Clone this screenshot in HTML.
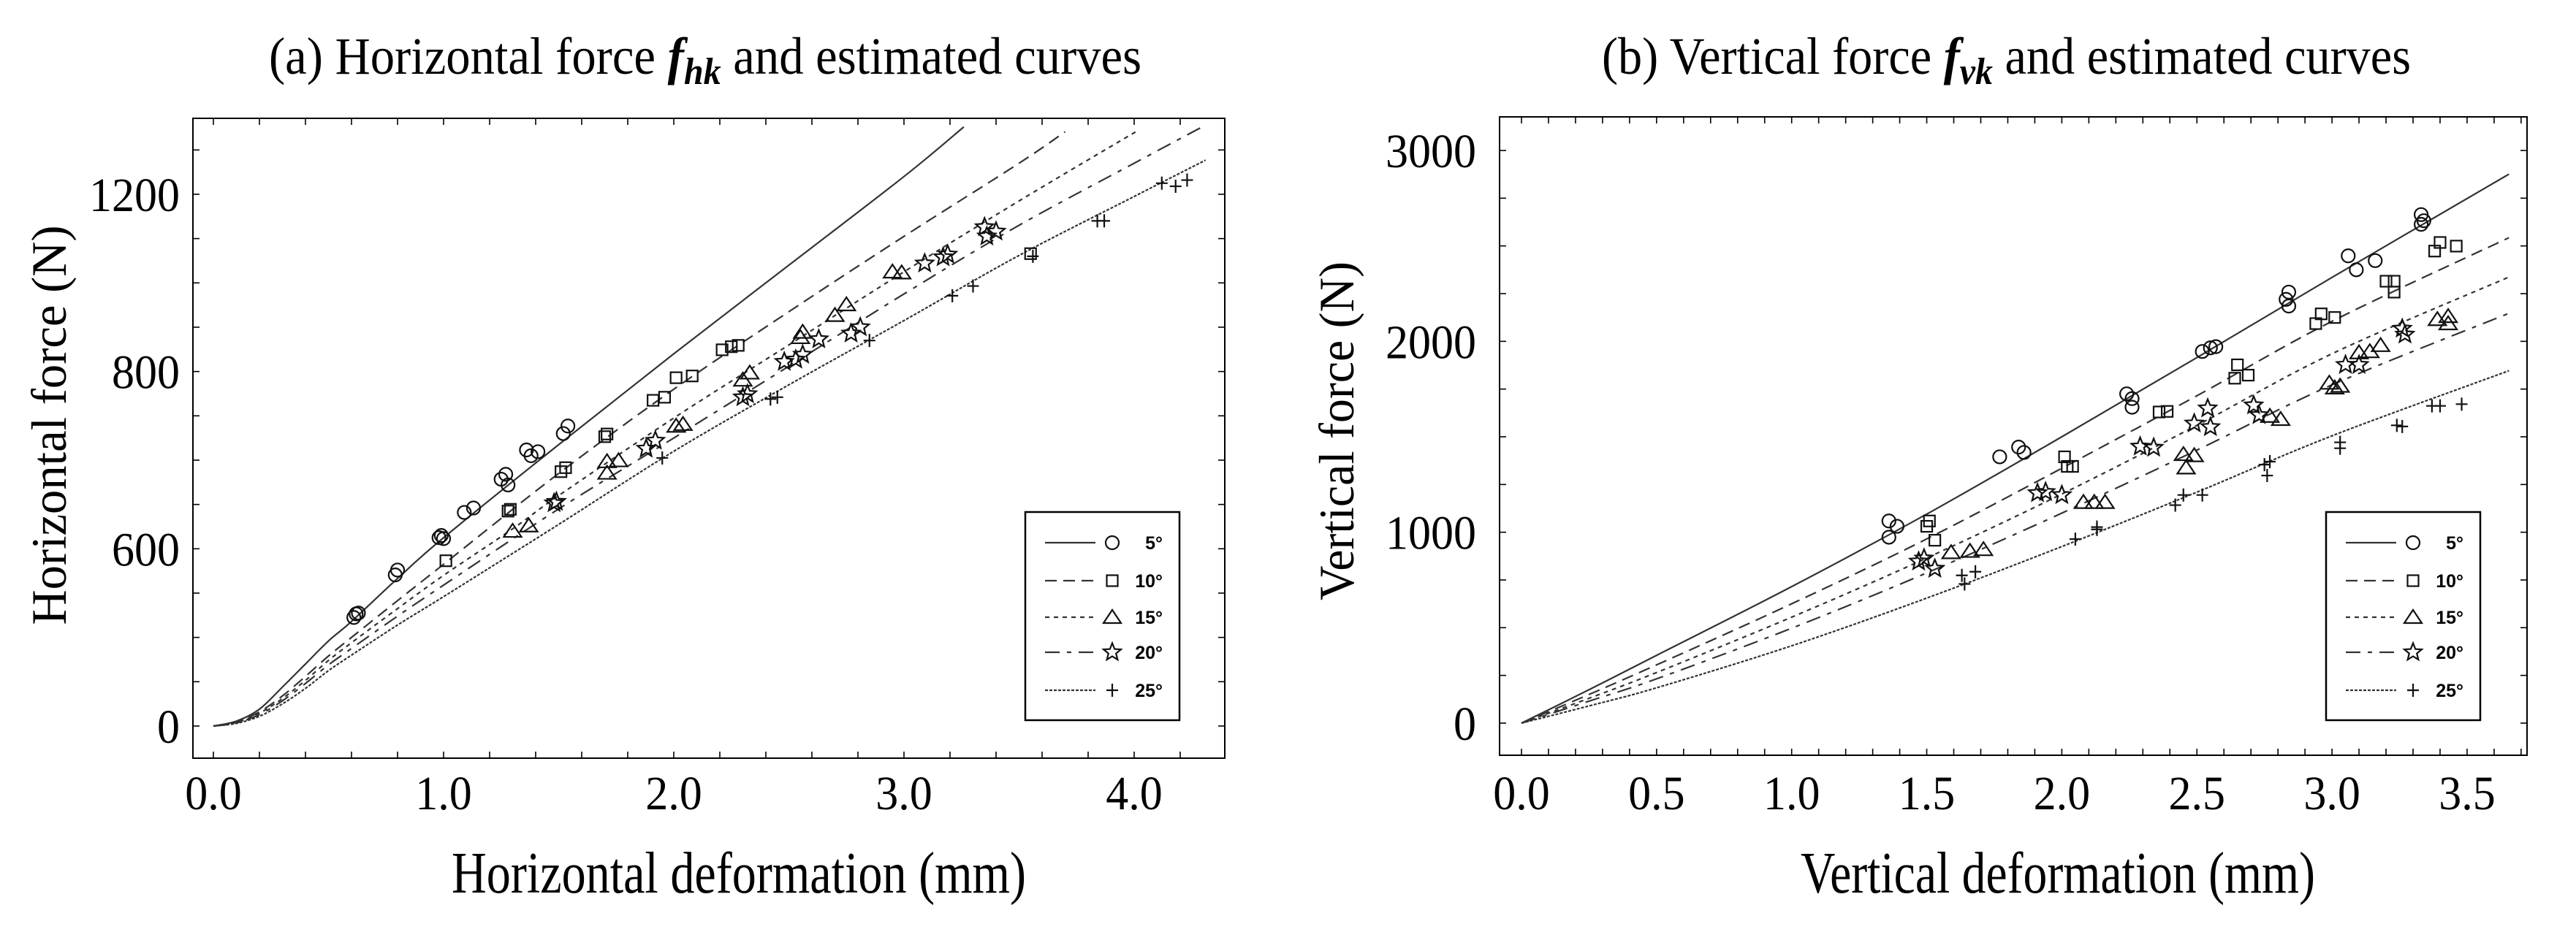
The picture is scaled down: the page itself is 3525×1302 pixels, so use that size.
<!DOCTYPE html>
<html><head><meta charset="utf-8"><style>
html,body{margin:0;padding:0;background:#fff;}
svg{display:block;}
text{font-family:"Liberation Serif",serif;fill:#000;}
.leg{font-family:"Liberation Sans",sans-serif;font-weight:bold;font-size:25px;}
</style></head><body>
<svg id="fig" width="3525" height="1302" viewBox="0 0 3525 1302" xmlns="http://www.w3.org/2000/svg">
<g id="chartA"></g>
<g id="chartB"></g>
</svg>
<script>
// ---------- Chart (a) data ----------
const seriesNames = ["5°","10°","15°","20°","25°"];
const aXTicks = [0,1,2,3,4];
const aXTickLabels = ["0.0","1.0","2.0","3.0","4.0"];
const aYTicks = [0,400,800,1200];
const aYTickLabels = ["0","600","800","1200"];
const aCurveX = [
 [0,0.1,0.2,0.3,0.4,0.5,0.6,0.8,1.0,1.5,2.0,2.5,3.0,3.26],
 [0,0.1,0.2,0.3,0.4,0.5,0.6,0.8,1.0,1.5,2.0,2.5,3.0,3.5,3.7],
 [0,0.1,0.2,0.3,0.4,0.5,0.6,0.8,1.0,1.3,1.5,2.0,2.5,3.0,3.5,4.02],
 [0,0.1,0.2,0.3,0.4,0.5,0.6,0.8,1.0,1.5,2.0,2.5,3.0,3.5,4.0,4.31],
 [0,0.1,0.2,0.3,0.4,0.5,0.6,0.8,1.0,1.5,2.0,2.5,3.0,3.5,4.0,4.31]];
const aCurveY = [
 [0,11,38,88,140,192,236,333,425,635,840,1040,1240,1352],
 [0,9,32,68,112,158,200,283,365,570,760,935,1105,1270,1341],
 [0,8,29,62,103,148,188,265,340,445,520,695,860,1025,1185,1345],
 [0,7,26,57,96,138,175,248,318,490,650,812,975,1130,1270,1356],
 [0,6,22,50,85,125,160,228,292,455,620,770,915,1062,1195,1277]];
const aPtX = [
 [0.62,0.61,0.63,0.79,0.8,0.98,1.0,0.99,1.09,1.13,1.25,1.27,1.28,1.36,1.38,1.41,1.52,1.54],
 [1.01,1.28,1.29,1.51,1.53,1.70,1.71,1.91,1.96,2.01,2.08,2.21,2.25,2.28,3.55],
 [1.30,1.37,1.71,1.76,1.71,2.01,2.04,2.30,2.33,2.55,2.56,2.70,2.75,2.95,2.99],
 [1.48,1.49,1.88,1.92,2.30,2.32,2.48,2.53,2.56,2.63,2.77,2.81,3.09,3.17,3.19,3.35,3.36,3.40],
 [1.95,2.42,2.45,2.85,3.21,3.30,3.56,3.84,3.87,4.12,4.18,4.23]];
const aPtY = [
 [253,245,255,341,352,425,423,430,482,492,557,568,544,623,610,619,660,677],
 [373,485,489,574,583,653,659,735,742,786,790,849,856,859,1066],
 [440,452,597,599,571,677,681,781,797,877,889,927,951,1025,1023],
 [503,506,626,644,742,749,822,827,838,873,886,900,1044,1058,1064,1126,1105,1116],
 [605,738,742,870,971,993,1060,1140,1140,1225,1218,1232]];

// ---------- Chart (b) data ----------
const bXTicks = [0,0.5,1,1.5,2,2.5,3,3.5];
const bXTickLabels = ["0.0","0.5","1.0","1.5","2.0","2.5","3.0","3.5"];
const bYTicks = [0,1000,2000,3000];
const bYTickLabels = ["0","1000","2000","3000"];
const bCurveX = [0,0.25,0.5,1.0,1.5,2.0,2.5,3.0,3.655];
const bCurveY = [
 [0,175,355,715,1095,1500,1915,2335,2876],
 [0,150,305,625,965,1335,1715,2105,2543],
 [0,130,265,555,865,1200,1560,1935,2337],
 [0,115,232,497,787,1100,1430,1772,2147],
 [0,90,185,405,655,925,1210,1505,1846]];
const bPtX = [
 [1.36,1.36,1.39,1.77,1.84,1.86,2.24,2.26,2.26,2.52,2.55,2.57,2.83,2.84,2.84,3.06,3.09,3.16,3.33,3.33,3.34],
 [1.50,1.51,1.53,2.01,2.02,2.04,2.36,2.39,2.64,2.65,2.69,2.94,2.96,3.01,3.20,3.23,3.23,3.38,3.40,3.46],
 [1.59,1.66,1.71,2.08,2.12,2.16,2.45,2.49,2.46,2.77,2.81,2.99,3.01,3.03,3.10,3.14,3.18,3.39,3.43,3.43],
 [1.47,1.49,1.53,1.91,1.94,2.00,2.29,2.34,2.49,2.54,2.55,2.71,2.73,3.05,3.10,3.26,3.27],
 [1.63,1.64,1.68,2.05,2.13,2.13,2.42,2.45,2.52,2.75,2.77,2.76,3.03,3.03,3.24,3.26,3.37,3.40,3.48]];
const bPtY = [
 [1059,974,1031,1395,1446,1418,1725,1700,1655,1947,1966,1972,2220,2258,2185,2448,2375,2423,2613,2664,2632],
 [1031,1059,958,1395,1345,1345,1630,1633,1807,1877,1823,2093,2144,2125,2315,2315,2258,2473,2518,2499],
 [894,901,910,1157,1157,1157,1408,1402,1338,1608,1592,1782,1757,1766,1941,1947,1979,2115,2131,2093],
 [847,863,809,1205,1211,1195,1449,1443,1570,1649,1551,1665,1614,1877,1877,2067,2036],
 [774,729,793,964,1027,1015,1142,1195,1195,1354,1370,1297,1471,1440,1560,1554,1662,1662,1671]];

const NS="http://www.w3.org/2000/svg";
const dashes=["","16,9","6,6","20,10,6,10","4,2"];
const markerKinds=["circle","square","triangle","star","plus"];
function mk(tag,attrs,parent){const e=document.createElementNS(NS,tag);for(const k in attrs)e.setAttribute(k,attrs[k]);parent.appendChild(e);return e;}
function marker(kind,cx,cy,parent){
  let e;
  if(kind==="circle"){e=mk("circle",{cx:cx,cy:cy,r:9},parent);}
  else if(kind==="square"){e=mk("rect",{x:cx-7.5,y:cy-7.5,width:15,height:15},parent);}
  else if(kind==="triangle"){e=mk("polygon",{points:`${cx},${cy-10} ${cx+12},${cy+8} ${cx-12},${cy+8}`},parent);}
  else if(kind==="star"){let p=[];for(let i=0;i<10;i++){const r=i%2?5.5:12.5;const a=-Math.PI/2+i*Math.PI/5;p.push((cx+r*Math.cos(a)).toFixed(1)+","+(cy+r*Math.sin(a)).toFixed(1));}e=mk("polygon",{points:p.join(" ")},parent);}
  else {e=mk("path",{d:`M${cx-8},${cy}H${cx+8}M${cx},${cy-9}V${cy+9}`},parent);}
  e.setAttribute("fill","none");e.setAttribute("stroke","#111");e.setAttribute("stroke-width","2.2");
  return e;
}
function txt(s,attrs,parent){const t=mk("text",attrs,parent);t.textContent=s;return t;}
function labelWidth(s,dw){let w=0;for(const c of s)w+=(c==="."?dw*0.5:dw);return w;}

function build(cfg){
  const g=cfg.g;
  const X=v=>cfg.x0+v*cfg.sx, Y=v=>cfg.y0-v*cfg.sy;
  const F=cfg.frame;
  const t=mk("text",{x:F.tx,y:101,"font-size":72,textLength:F.tw,lengthAdjust:"spacingAndGlyphs"},g);
  
  
  t.appendChild(document.createTextNode(cfg.title[0]));
  const ts=mk("tspan",{"font-style":"italic","font-weight":"bold"},t);ts.textContent="f";
  const ts2=mk("tspan",{"font-style":"italic","font-weight":"bold","font-size":52,dy:14},t);ts2.textContent=cfg.title[1];
  const ts3=mk("tspan",{dy:-14},t);ts3.textContent=cfg.title[2];
  const fr=mk("rect",{x:F.l,y:F.t,width:F.r-F.l,height:F.b-F.t,fill:"none",stroke:"#000","stroke-width":2},g);
  
  
  const tk=mk("g",{stroke:"#000","stroke-width":1.6},g);
  
  
  for(let v=cfg.xMinorStart;v<=cfg.xMax+1e-9;v+=cfg.xMinor){const px=X(v);if(px<F.l||px>F.r)continue;
    mk("line",{x1:px,y1:F.b,x2:px,y2:F.b-9},tk);mk("line",{x1:px,y1:F.t,x2:px,y2:F.t+9},tk);}
  for(let v=cfg.yMinorStart;v<=cfg.yMax+1e-9;v+=cfg.yMinor){const py=Y(v);if(py<F.t||py>F.b)continue;
    mk("line",{x1:F.l,y1:py,x2:F.l+9,y2:py},tk);mk("line",{x1:F.r,y1:py,x2:F.r-9,y2:py},tk);}
  cfg.xTicks.forEach((v,i)=>{const s=cfg.xTickLabels[i];
    const e=txt(s,{x:X(v),y:1108,"font-size":66,"text-anchor":"middle",textLength:labelWidth(s,31),lengthAdjust:"spacingAndGlyphs"},g);
    
    });
  cfg.yTicks.forEach((v,i)=>{const s=cfg.yTickLabels[i];
    const e=txt(s,{x:F.yl,y:Y(v)+23,"font-size":66,"text-anchor":"end",textLength:labelWidth(s,31),lengthAdjust:"spacingAndGlyphs"},g);
    
    });
  const xl=txt(cfg.xLabel,{x:F.xlx,y:1222,"font-size":80,"text-anchor":"middle",textLength:F.xlw,lengthAdjust:"spacingAndGlyphs"},g);
  
  
  const yl=txt(cfg.yLabel,{x:0,y:0,"font-size":68,"text-anchor":"middle",textLength:F.ylw,lengthAdjust:"spacingAndGlyphs",transform:`translate(${F.ylx},${F.yly}) rotate(-90)`},g);
  
  
  cfg.curveY.forEach((ys,si)=>{
    const xs=Array.isArray(cfg.curveX[0])?cfg.curveX[si]:cfg.curveX;
    const P=xs.map((x,i)=>[X(x),Y(ys[i])]);
    let d="M"+P[0][0]+","+P[0][1];
    for(let i=0;i<P.length-1;i++){const p0=P[Math.max(0,i-1)],p1=P[i],p2=P[i+1],p3=P[Math.min(P.length-1,i+2)];
      d+=` C${p1[0]+(p2[0]-p0[0])/6},${p1[1]+(p2[1]-p0[1])/6} ${p2[0]-(p3[0]-p1[0])/6},${p2[1]-(p3[1]-p1[1])/6} ${p2[0]},${p2[1]}`;}
    const c=mk("path",{d:d,fill:"none",stroke:"#333","stroke-width":2.2},g);
    if(dashes[si])c.setAttribute("stroke-dasharray",dashes[si]);
    
    
  });
  cfg.ptY.forEach((ys,si)=>{
    const pg=mk("g",{},g);
    
    
    ys.forEach((v,i)=>{const m=marker(markerKinds[si],X(cfg.ptX[si][i]),Y(v),pg);
      
      });
  });
  const L=cfg.legend;
  const lg=mk("g",{},g);
  
  
  mk("rect",{x:L.x,y:701,width:211,height:285,fill:"#fff",stroke:"#000","stroke-width":2.5},lg);
  const rows=[743,795,845,893,945];
  seriesNames.forEach((n,si)=>{
    const eg=mk("g",{},lg);
    
    
    const ln=mk("line",{x1:L.x+27,y1:rows[si],x2:L.x+96,y2:rows[si],stroke:"#333","stroke-width":2.2},eg);
    if(dashes[si])ln.setAttribute("stroke-dasharray",dashes[si]);
    marker(markerKinds[si],L.x+119,rows[si],eg);
    txt(n,{x:L.x+188,y:rows[si]+9,"text-anchor":"end",class:"leg"},eg);
  });
}

build({g:document.getElementById("chartA"),
  x0:292,sx:315,y0:994,sy:0.6067,xMax:4.39,yMax:1370,xMinor:0.2,xMinorStart:0,yMinor:100,yMinorStart:-100,
  xTicks:aXTicks,xTickLabels:aXTickLabels,yTicks:aYTicks,yTickLabels:aYTickLabels,
  curveX:aCurveX,curveY:aCurveY,ptX:aPtX,ptY:aPtY,
  title:["(a) Horizontal force ","hk"," and estimated curves"],
  xLabel:"Horizontal deformation (mm)",yLabel:"Horizontal force (N)",
  frame:{l:264,r:1676,t:162,b:1038,yl:246,tx:368,tw:1194,xlx:1011,xlw:786,ylx:90,yly:582,ylw:547},
  legend:{x:1403}});
build({g:document.getElementById("chartB"),
  x0:2082,sx:369.7,y0:990,sy:0.26133,xMax:3.72,yMax:3220,xMinor:0.1,xMinorStart:0,yMinor:250,yMinorStart:0,
  xTicks:bXTicks,xTickLabels:bXTickLabels,yTicks:bYTicks,yTickLabels:bYTickLabels,
  curveX:bCurveX,curveY:bCurveY,ptX:bPtX,ptY:bPtY,
  title:["(b) Vertical force ","vk"," and estimated curves"],
  xLabel:"Vertical deformation (mm)",yLabel:"Vertical force (N)",
  frame:{l:2052,r:3458,t:160,b:1034,yl:2020,tx:2192,tw:1107,xlx:2816,xlw:704,ylx:1852,yly:590,ylw:464},
  legend:{x:3183}});
</script>
</body></html>
